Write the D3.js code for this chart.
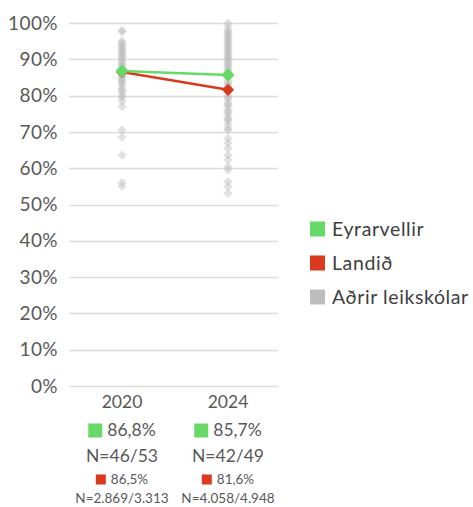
<!DOCTYPE html>
<html>
<head>
<meta charset="utf-8">
<script src="https://cdn.jsdelivr.net/npm/d3@7"></script>
<style>
  html, body { margin: 0; padding: 0; background: #fff; }
  svg { display: block; font-family: Lato, "Open Sans", sans-serif; }
</style>
</head>
<body>
<svg id="chart" width="473" height="507"></svg>
<script>
// Years on the x axis
const years = ["2020", "2024"];
// Eyrarvellir share per year (fraction)
const eyrarvellir = [0.868, 0.857];
const eyrarvellirN = ["N=46/53", "N=42/49"];
// National share per year
const landid = [0.865, 0.816];
const landidN = ["N=2.869/3.313", "N=4.058/4.948"];
// Other preschools, one value per school
const adrir2020 = [0.976, 0.979, 0.950, 0.945, 0.940, 0.935, 0.930, 0.925, 0.920, 0.915, 0.910,
  0.905, 0.900, 0.895, 0.890, 0.885, 0.880, 0.875, 0.870, 0.865, 0.860, 0.855, 0.850, 0.845,
  0.840, 0.835, 0.830, 0.820, 0.815, 0.810, 0.800, 0.795, 0.785, 0.770, 0.705, 0.685, 0.636,
  0.560, 0.550];
const adrir2024 = [0.999, 0.990, 0.980, 0.975, 0.970, 0.965, 0.960, 0.955, 0.950, 0.945, 0.940,
  0.935, 0.930, 0.925, 0.920, 0.915, 0.910, 0.905, 0.900, 0.895, 0.890, 0.885, 0.880, 0.875,
  0.870, 0.865, 0.860, 0.850, 0.840, 0.835, 0.830, 0.825, 0.820, 0.810, 0.800, 0.795, 0.790,
  0.780, 0.775, 0.770, 0.760, 0.755, 0.750, 0.740, 0.735, 0.730, 0.720, 0.710, 0.705, 0.682,
  0.669, 0.655, 0.636, 0.623, 0.604, 0.595, 0.563, 0.549, 0.531];
const adrir = [adrir2020, adrir2024];
// Y axis ticks
const yTicks = [0, 0.1, 0.2, 0.3, 0.4, 0.5, 0.6, 0.7, 0.8, 0.9, 1.0];
// Legend entries
const legendLabels = ["Eyrarvellir", "Landið", "Aðrir leikskólar"];

const green = "#66d966";
const red = "#d9391c";
const grey = "#bdbdbd";
const textCol = "#595959";

const svg = d3.select("#chart");

const y = d3.scaleLinear().domain([0, 1]).range([386, 23]);
const x = d3.scaleBand().domain(years).range([69, 281]);
const cx = d => x(d) + x.bandwidth() / 2;

// Horizontal gridlines
svg.append("g").selectAll("line").data(yTicks).join("line")
  .attr("x1", 69).attr("x2", 278)
  .attr("y1", d => Math.round(y(d)) + 0.5).attr("y2", d => Math.round(y(d)) + 0.5)
  .attr("stroke", "#dcdcdc").attr("stroke-width", 1.5);

// Y axis labels
const fmtPct = d3.format(".0%");
svg.append("g").selectAll("text").data(yTicks).join("text")
  .attr("x", 58).attr("y", d => y(d)).attr("dy", "0.35em")
  .attr("text-anchor", "end")
  .attr("font-size", 19).attr("letter-spacing", 0.4).attr("fill", textCol)
  .text(d => fmtPct(d));

const diamond = d3.symbol().type(d3.symbolDiamond2);

// Other schools: translucent grey diamonds
years.forEach((yr, i) => {
  svg.append("g").selectAll("path").data(adrir[i]).join("path")
    .attr("d", diamond.size(55)())
    .attr("transform", d => `translate(${cx(yr)},${y(d)})`)
    .attr("fill", grey).attr("fill-opacity", 0.45);
});

// Series lines with diamond markers
function series(values, color, size) {
  const line = d3.line().x((d, i) => cx(years[i])).y(d => y(d));
  svg.append("path").datum(values).attr("d", line)
    .attr("fill", "none").attr("stroke", color).attr("stroke-width", 2.5);
  svg.append("g").selectAll("path").data(values).join("path")
    .attr("d", diamond.size(size)())
    .attr("transform", (d, i) => `translate(${cx(years[i])},${y(d)})`)
    .attr("fill", color);
}
series(landid, red, 95);
series(eyrarvellir, green, 110);

// Category labels beneath the plot
const fmtComma = v => (v * 100).toFixed(1).replace(".", ",") + "%";

function keyedLabel(g, xc, yc, color, sq, fs, txt, gap) {
  const t = g.append("text").attr("y", yc).attr("dy", "0.35em")
    .attr("font-size", fs).attr("fill", textCol).text(txt);
  const tw = t.node().getComputedTextLength();
  const total = sq + gap + tw;
  const x0 = xc - total / 2;
  g.append("rect").attr("x", x0).attr("y", yc - sq / 2 + 0.5).attr("width", sq).attr("height", sq).attr("fill", color);
  t.attr("x", x0 + sq + gap);
}

years.forEach((yr, i) => {
  const g = svg.append("g");
  const xc = cx(yr);
  g.append("text").attr("x", xc).attr("y", 402).attr("dy", "0.35em")
    .attr("text-anchor", "middle").attr("font-size", 17.5).attr("fill", textCol).text(yr);
  keyedLabel(g, xc, 430, green, 14, 17.5, fmtComma(eyrarvellir[i]), 5);
  g.append("text").attr("x", xc).attr("y", 456).attr("dy", "0.35em")
    .attr("text-anchor", "middle").attr("font-size", 17.5).attr("fill", textCol).text(eyrarvellirN[i]);
  keyedLabel(g, xc, 479, red, 10, 13.5, fmtComma(landid[i]), 5);
  g.append("text").attr("x", xc).attr("y", 498).attr("dy", "0.35em")
    .attr("text-anchor", "middle").attr("font-size", 13.5).attr("fill", textCol).text(landidN[i]);
});

// Legend
const legendColors = [green, red, grey];
const lg = svg.append("g").selectAll("g").data(legendLabels).join("g")
  .attr("transform", (d, i) => `translate(310,${229 + i * 34})`);
lg.append("rect").attr("x", 0).attr("y", -7.5).attr("width", 15).attr("height", 15)
  .attr("fill", (d, i) => legendColors[i]);
lg.append("text").attr("x", 22).attr("y", 0).attr("dy", "0.35em")
  .attr("font-size", 19.5).attr("letter-spacing", 0.6).attr("fill", "#404040").text(d => d);
</script>
</body>
</html>
